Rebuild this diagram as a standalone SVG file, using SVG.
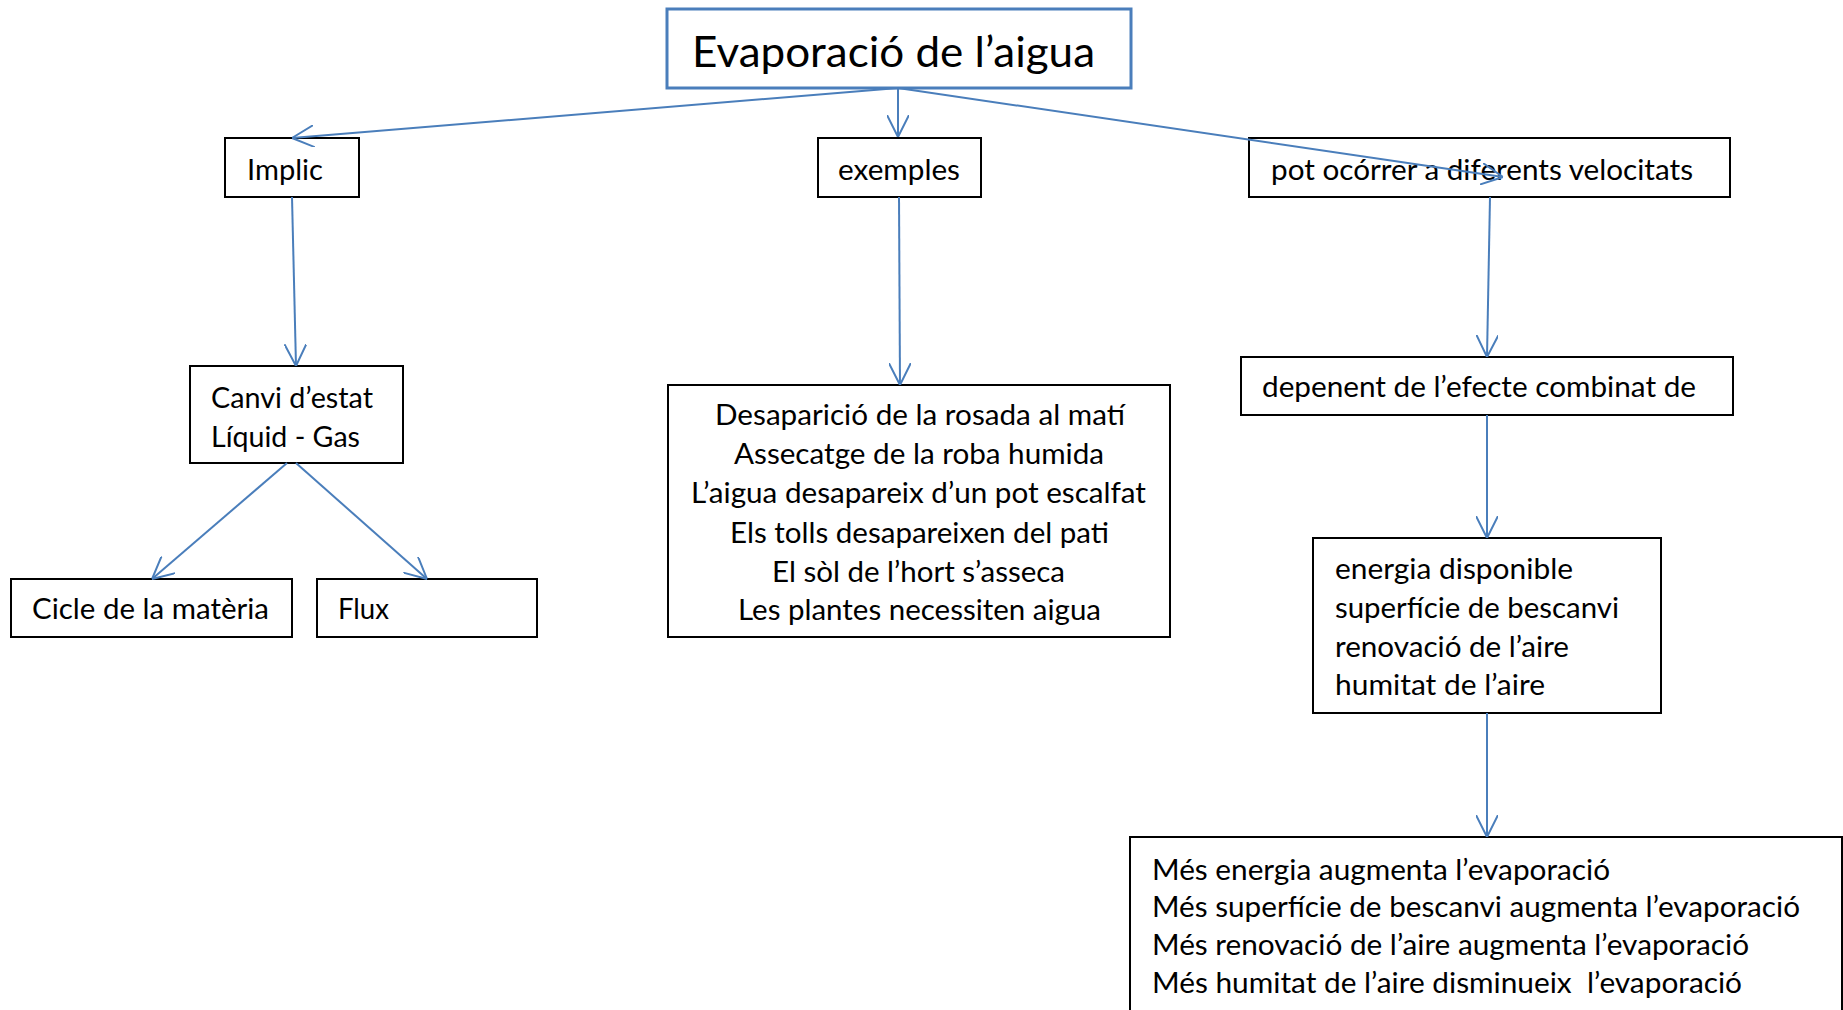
<svg xmlns="http://www.w3.org/2000/svg" width="1843" height="1010" viewBox="0 0 1843 1010">
<style>
  .box{fill:#fff;stroke:#000;stroke-width:2}
  .tbox{fill:#fff;stroke:#4A7EBB;stroke-width:3}
  .t{font-family:Lato,"Liberation Sans",sans-serif;font-size:28px;fill:#000}
  .title{font-family:Lato,"Liberation Sans",sans-serif;font-size:42px;fill:#000}
  .c{text-anchor:middle}
  .conn{fill:none;stroke:#4A7EBB;stroke-width:2;marker-end:url(#arr)}
</style>
<defs>
  <marker id="arr" viewBox="0 0 20 20" refX="20" refY="10" markerWidth="22" markerHeight="22" markerUnits="userSpaceOnUse" orient="auto">
    <path d="M0,0 L20,10 L0,20" fill="none" stroke="#4A7EBB" stroke-width="1.8"/>
  </marker>
</defs>
<rect width="1843" height="1010" fill="#fff"/>
<g id="n-title">
  <rect class="tbox" x="667" y="9" width="464" height="79"/>
  <text class="title" x="692" y="67" textLength="403" lengthAdjust="spacingAndGlyphs">Evaporació de l’aigua</text>
</g>
<g id="n-implic">
  <rect class="box" x="225" y="138" width="134" height="59"/>
  <text class="t" x="247" y="180" textLength="76" lengthAdjust="spacingAndGlyphs">Implic</text>
</g>
<g id="n-exemples">
  <rect class="box" x="818" y="138" width="163" height="59"/>
  <text class="t" x="838" y="180" textLength="122" lengthAdjust="spacingAndGlyphs">exemples</text>
</g>
<g id="n-pot">
  <rect class="box" x="1249" y="138" width="481" height="59"/>
  <text class="t" x="1271" y="180" textLength="422" lengthAdjust="spacingAndGlyphs">pot ocórrer a diferents velocitats</text>
</g>
<g id="n-canvi">
  <rect class="box" x="190" y="366" width="213" height="97"/>
  <text class="t" x="211" y="408" textLength="162" lengthAdjust="spacingAndGlyphs">Canvi d’estat</text>
  <text class="t" x="211" y="447" textLength="149" lengthAdjust="spacingAndGlyphs">Líquid - Gas</text>
</g>
<g id="n-cicle">
  <rect class="box" x="11" y="579" width="281" height="58"/>
  <text class="t" x="32" y="619" textLength="237" lengthAdjust="spacingAndGlyphs">Cicle de la matèria</text>
</g>
<g id="n-flux">
  <rect class="box" x="317" y="579" width="220" height="58"/>
  <text class="t" x="338" y="619" textLength="51" lengthAdjust="spacingAndGlyphs">Flux</text>
</g>
<g id="n-exlist">
  <rect class="box" x="668" y="385" width="502" height="252"/>
  <text class="t" x="715" y="425" textLength="410" lengthAdjust="spacingAndGlyphs">Desaparició de la rosada al matí</text>
  <text class="t" x="734" y="464" textLength="370" lengthAdjust="spacingAndGlyphs">Assecatge de la roba humida</text>
  <text class="t" x="691" y="503" textLength="455" lengthAdjust="spacingAndGlyphs">L’aigua desapareix d’un pot escalfat</text>
  <text class="t" x="730" y="543" textLength="379" lengthAdjust="spacingAndGlyphs">Els tolls desapareixen del pati</text>
  <text class="t" x="772" y="582" textLength="293" lengthAdjust="spacingAndGlyphs">El sòl de l’hort s’asseca</text>
  <text class="t" x="738" y="620" textLength="363" lengthAdjust="spacingAndGlyphs">Les plantes necessiten aigua</text>
</g>
<g id="n-depenent">
  <rect class="box" x="1241" y="357" width="492" height="58"/>
  <text class="t" x="1262" y="397" textLength="434" lengthAdjust="spacingAndGlyphs">depenent de l’efecte combinat de</text>
</g>
<g id="n-factors">
  <rect class="box" x="1313" y="538" width="348" height="175"/>
  <text class="t" x="1335" y="579" textLength="238" lengthAdjust="spacingAndGlyphs">energia disponible</text>
  <text class="t" x="1335" y="618" textLength="284" lengthAdjust="spacingAndGlyphs">superfície de bescanvi</text>
  <text class="t" x="1335" y="657" textLength="234" lengthAdjust="spacingAndGlyphs">renovació de l’aire</text>
  <text class="t" x="1335" y="695" textLength="210" lengthAdjust="spacingAndGlyphs">humitat de l’aire</text>
</g>
<g id="n-effects">
  <rect class="box" x="1130" y="837" width="712" height="200"/>
  <text class="t" x="1152" y="880" textLength="458" lengthAdjust="spacingAndGlyphs">Més energia augmenta l’evaporació</text>
  <text class="t" x="1152" y="917" textLength="648" lengthAdjust="spacingAndGlyphs">Més superfície de bescanvi augmenta l’evaporació</text>
  <text class="t" x="1152" y="955" textLength="597" lengthAdjust="spacingAndGlyphs">Més renovació de l’aire augmenta l’evaporació</text>
  <text class="t" x="1152" y="993" textLength="590" lengthAdjust="spacingAndGlyphs" xml:space="preserve">Més humitat de l’aire disminueix  l’evaporació</text>
</g>
<g id="connectors">
  <path class="conn" d="M898,88 L292,138"/>
  <path class="conn" d="M898,88 L898,137"/>
  <path class="conn" d="M898,88 L1503,177"/>
  <path class="conn" d="M292,197 L296,366"/>
  <path class="conn" d="M287,463 L152,579"/>
  <path class="conn" d="M296,463 L427,579"/>
  <path class="conn" d="M899,197 L900,385"/>
  <path class="conn" d="M1490,197 L1487,357"/>
  <path class="conn" d="M1487,415 L1487,538"/>
  <path class="conn" d="M1487,713 L1487,837"/>
</g>
</svg>
